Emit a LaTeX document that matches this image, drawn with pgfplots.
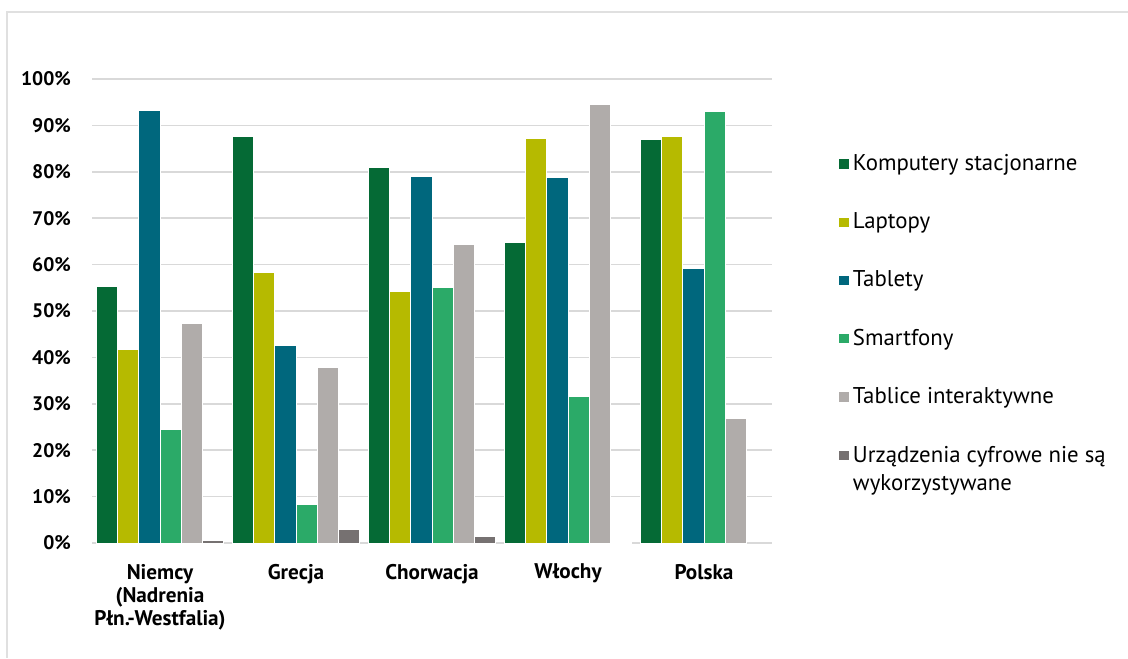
\documentclass[border=0pt]{standalone}
\usepackage{pgfplots}
\pgfplotsset{compat=1.18}
\usepackage{fontspec}
\setmainfont{PT Sans}

\definecolor{cKomp}{HTML}{056A35}
\definecolor{cLap}{HTML}{B6BA00}
\definecolor{cTab}{HTML}{00677D}
\definecolor{cSmart}{HTML}{2BAA68}
\definecolor{cTabl}{HTML}{B0ACAA}
\definecolor{cNone}{HTML}{767171}
\definecolor{cGrid}{HTML}{D9D9D9}
\definecolor{cFrame}{HTML}{E0E0E0}

\begin{document}
\begin{tikzpicture}
% page area and outer frame
\path[use as bounding box] (0,0) rectangle (564pt,329pt);
\draw[cFrame, line width=1pt] (3.5pt,0) -- (3.5pt,323pt) -- (564pt,323pt);

\begin{axis}[
  at={(46pt,57.5pt)}, anchor=south west,
  scale only axis,
  width=340pt, height=232pt,
  ybar=0pt, bar width=10.65pt,
  xmin=-0.5, xmax=4.5,
  ymin=0, ymax=100,
  enlargelimits=false,
  axis line style={draw=none},
  major tick length=0pt,
  ymajorgrids,
  grid style={cGrid, line width=0.8pt},
  ytick={0,10,...,100},
  yticklabel={\pgfmathprintnumber{\tick}\%},
  /pgf/number format/assume math mode=true,
  yticklabel style={font=\bfseries\fontsize{9.8pt}{11pt}\selectfont, xshift=-7pt},
  xtick={0,1,2,3,4},
  xticklabels={{Niemcy\\(Nadrenia\\Płn.-Westfalia)},Grecja,Chorwacja,Włochy,Polska},
  xticklabel style={font=\bfseries\fontsize{10.6pt}{11.6pt}\selectfont, align=center, yshift=-7pt},
  every axis plot/.append style={draw=white, line width=0.5pt},
  legend image code/.code={\fill[#1] (0pt,-2.6pt) rectangle (5.2pt,2.6pt);},
  legend style={
    at={(axis description cs:1.097,0.845)}, anchor=north west,
    draw=none, fill=none, inner sep=0pt,
    font=\fontsize{11.4pt}{14pt}\selectfont,
    row sep=16.4pt,
    cells={anchor=base west},
    nodes={inner sep=1.6pt},
  },
  legend cell align=left,
]
\addplot[fill=cKomp] coordinates {(0,55.2) (1,87.7) (2,81.0) (3,64.7) (4,86.9)};
\addplot[fill=cLap] coordinates {(0,41.6) (1,58.2) (2,54.1) (3,87.1) (4,87.7)};
\addplot[fill=cTab] coordinates {(0,93.3) (1,42.5) (2,78.9) (3,78.7) (4,59.1)};
\addplot[fill=cSmart] coordinates {(0,24.4) (1,8.2) (2,55.0) (3,31.5) (4,92.9)};
\addplot[fill=cTabl] coordinates {(0,47.2) (1,37.9) (2,64.4) (3,94.4) (4,26.9)};
\addplot[fill=cNone] coordinates {(0,0.6) (1,3.0) (2,1.5) (3,0.2)};
\legend{Komputery stacjonarne,Laptopy,Tablety,Smartfony,Tablice interaktywne,{\vtop{\hbox{Urządzenia cyfrowe nie są}\hbox{wykorzystywane}}}}
\end{axis}
\end{tikzpicture}
\end{document}
